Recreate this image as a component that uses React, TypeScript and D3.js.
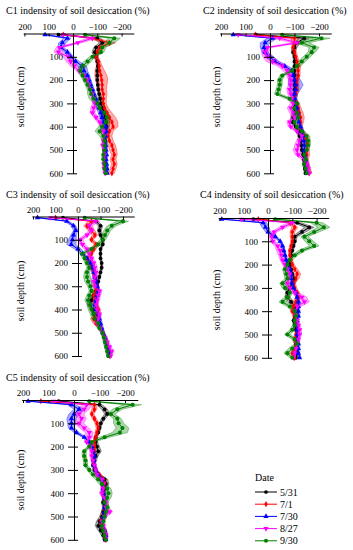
import React, { useRef, useEffect } from 'react'
import * as d3 from 'd3'

// depth (cm) of every sample
const depths = [5, 20, 40, 60, 80, 100, 120, 140, 160, 180, 200, 220, 240, 260, 280, 300, 320, 340, 360, 380, 400, 420, 440, 460, 480, 500, 520, 540, 560, 580, 600]
const dates = ['5/31', '7/1', '7/30', '8/27', '9/30']
const colors = ['#000000', '#ff0000', '#0000ff', '#ff00ff', '#008000']
const xTicks = [200, 100, 0, -100, -200]
const yTicks = [100, 200, 300, 400, 500, 600]

// C1
const c1Black = [60, -100, -120, -95, -90, -95, -100, -102, -100, -100, -100, -102, -104, -108, -112, -116, -122, -128, -132, -136, -138, -134, -130, -132, -130, -128, -130, -132, -130, -133, -134]
const c1Red = [40, -80, -150, -110, -100, -95, -105, -108, -110, -115, -118, -120, -120, -125, -125, -125, -130, -140, -150, -160, -165, -150, -145, -150, -160, -165, -170, -165, -170, -165, -160]
const c1Blue = [115, 23, 44, 50, 23, 10, -11, -38, -45, -59, -66, -73, -80, -86, -93, -100, -107, -114, -120, -127, -134, -136, -134, -132, -135, -136, -138, -136, -138, -140, -141]
const c1Magenta = [40, -80, -20, 55, 60, 20, 10, -5, -25, -45, -59, -65, -72, -80, -85, -90, -85, -80, -95, -110, -120, -125, -128, -125, -122, -128, -130, -128, -126, -128, -132]
const c1Green = [-50, -170, -150, -120, -115, -80, -60, -40, -30, -40, -50, -60, -70, -75, -85, -100, -110, -130, -140, -135, -120, -110, -125, -130, -130, -130, -125, -125, -130, -130, -135]
const c1BlackSd = [5, 15, 12, 10, 12, 8, 6, 5, 5, 5, 5, 5, 5, 6, 8, 10, 12, 15, 18, 15, 12, 8, 6, 5, 5, 5, 5, 5, 5, 5, 5]
const c1RedSd = [5, 20, 25, 15, 12, 8, 8, 12, 20, 25, 25, 20, 18, 15, 12, 12, 15, 20, 25, 25, 20, 15, 15, 15, 15, 15, 12, 12, 12, 12, 10]
const c1BlueSd = [10, 15, 15, 12, 10, 12, 15, 18, 15, 10, 8, 8, 8, 8, 8, 8, 10, 10, 10, 10, 8, 8, 6, 6, 6, 6, 6, 6, 6, 6, 6]
const c1MagentaSd = [10, 20, 15, 15, 18, 20, 18, 15, 12, 10, 10, 8, 8, 8, 8, 10, 12, 10, 10, 10, 8, 8, 8, 6, 6, 6, 6, 6, 6, 6, 6]
const c1GreenSd = [10, 25, 20, 15, 12, 12, 15, 15, 12, 10, 10, 10, 12, 15, 18, 15, 12, 12, 15, 15, 15, 20, 15, 10, 8, 6, 6, 6, 6, 6, 6]

// C2
const c2Black = [57, -140, -110, -100, -95, -100, -100, -100, -100, -100, -100, -100, -100, -100, -100, -100, -100, -98, -95, -92, -105, -115, -120, -125, -128, -130, -135, -138, -140, -142, -145]
const c2Red = [60, -100, -100, -95, -100, -105, -110, -115, -115, -115, -110, -110, -110, -105, -100, -110, -115, -120, -125, -125, -120, -130, -140, -150, -150, -150, -150, -145, -150, -155, -160]
const c2Blue = [150, -10, 20, 25, 20, 0, -20, -60, -90, -95, -100, -105, -105, -100, -100, -105, -110, -112, -115, -118, -125, -130, -135, -138, -140, -140, -142, -145, -148, -150, -150]
const c2Magenta = [130, -40, -110, 10, 20, 10, -10, -50, -70, -80, -85, -85, -80, -85, -90, -95, -85, -95, -100, -80, -85, -110, -130, -120, -115, -110, -115, -140, -150, -155, -160]
const c2Green = [-50, -210, -130, -180, -170, -150, -130, -110, -90, -50, -40, -40, -35, -30, -80, -110, -100, -110, -115, -100, -110, -130, -150, -155, -155, -150, -140, -145, -140, -145, -150]
const c2BlackSd = [5, 20, 15, 10, 8, 6, 5, 5, 5, 5, 5, 5, 5, 5, 5, 5, 6, 8, 10, 8, 6, 5, 5, 5, 5, 5, 5, 5, 5, 5, 5]
const c2RedSd = [5, 15, 10, 8, 8, 8, 10, 10, 8, 8, 8, 8, 8, 8, 8, 10, 12, 15, 15, 12, 10, 10, 12, 12, 10, 10, 12, 12, 10, 10, 10]
const c2BlueSd = [10, 20, 20, 15, 12, 15, 18, 15, 12, 15, 25, 30, 20, 12, 10, 10, 10, 10, 10, 8, 8, 8, 8, 8, 8, 8, 8, 8, 8, 8, 8]
const c2MagentaSd = [10, 30, 20, 15, 15, 20, 25, 20, 15, 12, 10, 10, 12, 12, 12, 12, 15, 15, 12, 12, 10, 10, 12, 12, 15, 15, 12, 12, 10, 10, 10]
const c2GreenSd = [10, 35, 30, 20, 15, 15, 15, 15, 12, 10, 10, 10, 10, 12, 15, 12, 10, 10, 10, 10, 10, 12, 12, 10, 10, 8, 8, 8, 8, 8, 8]

// C3
const c3Black = [67, -80, -100, -95, -100, -110, -110, -100, -100, -100, -105, -105, -100, -95, -90, -85, -80, -70, -60, -55, -65, -70, -80, -90, -100, -110, -120, -125, -130, -135, -135]
const c3Red = [100, -60, -40, -60, -75, -60, -80, -70, -60, -40, -55, -60, -70, -75, -80, -85, -80, -70, -75, -80, -90, -85, -70, -80, -100, -110, -120, -125, -130, -135, -140]
const c3Blue = [180, 50, 20, 10, 20, 25, 30, 0, -20, -40, -55, -65, -70, -75, -80, -85, -90, -85, -80, -75, -80, -90, -95, -100, -105, -110, -120, -125, -130, -135, -140]
const c3Magenta = [120, -80, -50, -60, -40, -10, -20, -40, -50, -60, -70, -75, -80, -75, -70, -75, -95, -90, -85, -80, -85, -95, -90, -85, -100, -110, -120, -130, -140, -150, -145]
const c3Green = [-30, -200, -150, -130, -120, -110, -90, -60, -20, -30, -40, -50, -40, -40, -45, -55, -60, -50, -45, -55, -60, -70, -75, -90, -95, -110, -115, -120, -125, -130, -135]
const c3BlackSd = [5, 10, 10, 8, 8, 6, 6, 5, 5, 5, 5, 5, 5, 5, 5, 5, 6, 10, 15, 15, 10, 8, 6, 6, 6, 6, 6, 6, 6, 6, 6]
const c3RedSd = [5, 15, 15, 15, 12, 10, 10, 10, 8, 8, 8, 8, 8, 8, 8, 8, 10, 12, 12, 10, 10, 12, 15, 12, 10, 8, 8, 8, 8, 8, 8]
const c3BlueSd = [10, 10, 10, 10, 12, 18, 20, 15, 10, 8, 8, 8, 8, 8, 8, 8, 8, 8, 8, 8, 8, 8, 8, 8, 8, 8, 8, 8, 8, 8, 8]
const c3MagentaSd = [10, 15, 15, 12, 12, 12, 12, 12, 10, 10, 10, 10, 10, 12, 12, 12, 12, 10, 10, 10, 10, 10, 10, 10, 10, 8, 8, 8, 8, 8, 8]
const c3GreenSd = [10, 25, 20, 15, 15, 12, 12, 15, 12, 10, 10, 10, 12, 15, 15, 12, 10, 12, 15, 15, 15, 15, 15, 12, 10, 8, 8, 8, 8, 8, 8]

// C4
const c4Black = [60, -120, -170, -140, -110, -110, -105, -100, -95, -90, -90, -95, -100, -110, -100, -90, -80, -80, -95, -110, -115, -110, -105, -110, -115, -120, -115, -115, -120, -120, -115]
const c4Red = [40, -90, -110, -100, -100, -100, -95, -90, -90, -95, -100, -110, -120, -115, -105, -110, -120, -125, -115, -105, -100, -110, -115, -120, -120, -115, -110, -115, -110, -100, -110]
const c4Blue = [190, 20, 10, 0, -30, -50, -60, -65, -70, -75, -80, -90, -95, -95, -100, -105, -115, -120, -125, -125, -125, -125, -120, -120, -120, -120, -120, -125, -125, -125, -130]
const c4Magenta = [110, -100, -60, -25, -15, -20, -40, -50, -55, -60, -70, -80, -90, -85, -80, -90, -110, -140, -150, -120, -110, -115, -120, -125, -130, -130, -125, -120, -115, -110, -105]
const c4Green = [-30, -200, -230, -190, -150, -170, -190, -140, -110, -90, -80, -70, -75, -80, -60, -70, -90, -80, -60, -90, -110, -115, -110, -110, -100, -80, -110, -120, -100, -80, -100]
const c4BlackSd = [5, 15, 20, 15, 10, 6, 5, 5, 5, 5, 5, 5, 5, 8, 12, 10, 8, 10, 12, 10, 8, 6, 5, 5, 5, 5, 5, 5, 5, 5, 5]
const c4RedSd = [5, 12, 12, 10, 8, 6, 6, 6, 6, 6, 8, 12, 15, 12, 8, 8, 10, 12, 12, 10, 8, 8, 8, 8, 6, 6, 6, 6, 6, 6, 6]
const c4BlueSd = [10, 15, 15, 10, 8, 6, 6, 6, 6, 6, 6, 6, 6, 6, 6, 6, 6, 6, 6, 6, 6, 6, 6, 6, 6, 6, 6, 6, 6, 6, 6]
const c4MagentaSd = [10, 20, 15, 12, 10, 10, 12, 15, 12, 10, 10, 10, 10, 10, 10, 12, 15, 20, 20, 15, 10, 8, 8, 8, 8, 8, 8, 8, 8, 8, 8]
const c4GreenSd = [10, 25, 25, 20, 15, 18, 20, 15, 12, 10, 10, 10, 10, 10, 12, 12, 10, 12, 15, 12, 10, 8, 8, 8, 10, 12, 12, 12, 15, 15, 10]

// C5
const c5Black = [60, -100, -120, -130, -115, -105, -100, -95, -85, -85, -90, -95, -85, -80, -75, -80, -95, -120, -125, -120, -115, -120, -115, -120, -115, -110, -100, -95, -105, -115, -120]
const c5Red = [130, -80, -80, -70, -80, -90, -95, -90, -85, -80, -80, -80, -75, -75, -80, -85, -100, -115, -120, -115, -115, -120, -120, -125, -120, -115, -105, -110, -120, -125, -125]
const c5Blue = [180, 10, -20, 0, 10, 10, 10, -10, -40, -60, -70, -75, -80, -78, -78, -85, -95, -110, -115, -115, -115, -120, -120, -120, -120, -115, -110, -110, -120, -125, -125]
const c5Magenta = [80, -50, -40, -20, -30, -20, -40, -60, -60, -50, -65, -70, -70, -75, -80, -85, -90, -110, -115, -115, -110, -120, -125, -125, -140, -120, -110, -115, -120, -125, -125]
const c5Green = [-60, -230, -170, -145, -170, -175, -190, -180, -120, -70, -60, -40, -40, -45, -45, -60, -75, -95, -110, -130, -135, -130, -120, -130, -125, -120, -115, -110, -115, -120, -125]
const c5BlackSd = [5, 10, 12, 10, 8, 6, 6, 6, 6, 8, 10, 12, 10, 8, 6, 6, 8, 12, 12, 10, 8, 8, 8, 8, 8, 10, 12, 12, 10, 8, 6]
const c5RedSd = [5, 10, 10, 8, 8, 8, 8, 8, 6, 6, 6, 6, 6, 6, 6, 6, 8, 10, 10, 8, 8, 8, 8, 10, 12, 10, 8, 8, 8, 8, 6]
const c5BlueSd = [10, 15, 20, 20, 18, 15, 12, 10, 8, 6, 6, 6, 6, 6, 6, 6, 6, 6, 6, 6, 6, 6, 6, 6, 6, 6, 6, 6, 6, 6, 6]
const c5MagentaSd = [10, 20, 20, 18, 18, 18, 18, 15, 12, 10, 8, 8, 8, 8, 8, 8, 8, 10, 10, 10, 10, 10, 10, 10, 12, 10, 8, 8, 8, 8, 6]
const c5GreenSd = [10, 35, 20, 15, 15, 20, 25, 30, 20, 10, 8, 8, 8, 8, 8, 8, 10, 12, 12, 15, 15, 15, 12, 10, 10, 8, 8, 8, 8, 8, 6]

const panels = [
    { name: 'C1', series: [c1Black, c1Red, c1Blue, c1Magenta, c1Green], spread: [c1BlackSd, c1RedSd, c1BlueSd, c1MagentaSd, c1GreenSd], zeroX: 73, top: 33.5, pxX: 24.3, pxY: 23.3, titleX: 6, titleY: 14, labelX: 24, labelY: 97 },
    { name: 'C2', series: [c2Black, c2Red, c2Blue, c2Magenta, c2Green], spread: [c2BlackSd, c2RedSd, c2BlueSd, c2MagentaSd, c2GreenSd], zeroX: 270, top: 33.5, pxX: 24.5, pxY: 23.3, titleX: 203, titleY: 14, labelX: 220, labelY: 97 },
    { name: 'C3', series: [c3Black, c3Red, c3Blue, c3Magenta, c3Green], spread: [c3BlackSd, c3RedSd, c3BlueSd, c3MagentaSd, c3GreenSd], zeroX: 78, top: 216.5, pxX: 22.5, pxY: 23.25, titleX: 6, titleY: 198, labelX: 24, labelY: 291 },
    { name: 'C4', series: [c4Black, c4Red, c4Blue, c4Magenta, c4Green], spread: [c4BlackSd, c4RedSd, c4BlueSd, c4MagentaSd, c4GreenSd], zeroX: 268, top: 218, pxX: 24.3, pxY: 23.3, titleX: 200, titleY: 198, labelX: 220, labelY: 300 },
    { name: 'C5', series: [c5Black, c5Red, c5Blue, c5Magenta, c5Green], spread: [c5BlackSd, c5RedSd, c5BlueSd, c5MagentaSd, c5GreenSd], zeroX: 74, top: 400, pxX: 25.5, pxY: 23.3, titleX: 6, titleY: 381, labelX: 24, labelY: 480 },
]

const font = "'Liberation Serif', 'Times New Roman', Times, serif"

// marker shapes: circle, diamond, triangle, triangle down, circle
const markerPath = (i: number) => {
    const types = [d3.symbolCircle, d3.symbolDiamond, d3.symbolTriangle, d3.symbolTriangle, d3.symbolCircle]
    const sizes = [11, 11, 12, 12, 13]
    return d3.symbol().type(types[i]).size(sizes[i])()
}

export default function App() {
    const svgRef = useRef<SVGSVGElement>(null)

    useEffect(() => {
        const svg = d3.select(svgRef.current)
        svg.selectAll('*').remove()

        panels.forEach((p) => {
            const g = svg.append('g')
            const x = d3
                .scaleLinear()
                .domain([205, -250])
                .range([p.zeroX - 2.05 * p.pxX, p.zeroX + 2.5 * p.pxX])
            const y = d3
                .scaleLinear()
                .domain([0, 600])
                .range([p.top, p.top + 6 * p.pxY])

            // title
            g.append('text')
                .attr('x', p.titleX)
                .attr('y', p.titleY)
                .attr('font-family', font)
                .attr('font-size', 10)
                .text(`${p.name} indensity of soil desiccation (%)`)

            // y label
            g.append('text')
                .attr('transform', `translate(${p.labelX},${p.labelY}) rotate(-90)`)
                .attr('text-anchor', 'middle')
                .attr('font-family', font)
                .attr('font-size', 10)
                .text('soil depth (cm)')

            // bands
            p.series.forEach((vals, si) => {
                const sd = p.spread[si]
                const area = d3
                    .area<number>()
                    .x0((d, i) => x(vals[i] - sd[i]))
                    .x1((d, i) => x(vals[i] + sd[i]))
                    .y((d) => y(d))
                g.append('path')
                    .attr('d', area(depths))
                    .attr('fill', colors[si])
                    .attr('fill-opacity', 0.33)
                    .attr('stroke', colors[si])
                    .attr('stroke-opacity', 0.7)
                    .attr('stroke-width', 0.5)
            })

            // lines + markers
            p.series.forEach((vals, si) => {
                const line = d3
                    .line<number>()
                    .x((d, i) => x(vals[i]))
                    .y((d) => y(d))
                g.append('path')
                    .attr('d', line(depths))
                    .attr('fill', 'none')
                    .attr('stroke', colors[si])
                    .attr('stroke-width', 1)
                g.selectAll(null)
                    .data(depths)
                    .enter()
                    .append('path')
                    .attr('d', markerPath(si))
                    .attr('transform', (d, i) => `translate(${x(vals[i])},${y(d)})${si === 3 ? ' rotate(180)' : ''}`)
                    .attr('fill', colors[si])
            })

            // top x axis
            const xAxis = d3.axisTop(x).tickValues(xTicks).tickSizeInner(-3).tickSizeOuter(0).tickPadding(4)
            const ax = g.append('g').attr('transform', `translate(0,${p.top})`).call(xAxis)
            ax.attr('font-family', font).attr('font-size', 9)
            ax.selectAll('text').attr('fill', '#000')
            ax.select('.domain').attr('stroke', '#000')

            // left y axis with crossing ticks
            const yAxis = d3.axisLeft(y).tickValues(yTicks).tickSize(6).tickSizeOuter(0).tickPadding(4)
            const ay = g.append('g').attr('transform', `translate(${p.zeroX},0)`).call(yAxis)
            ay.attr('font-family', font).attr('font-size', 9)
            ay.selectAll('.tick line').attr('x1', 4).attr('x2', -6)
            ay.selectAll('text').attr('fill', '#000')
        })

        // legend
        const lg = svg.append('g').attr('transform', 'translate(255,478)')
        lg.append('text')
            .attr('x', 0)
            .attr('y', 3)
            .attr('font-family', font)
            .attr('font-size', 10)
            .text('Date')
        const item = lg
            .selectAll('.item')
            .data(dates)
            .enter()
            .append('g')
            .attr('class', 'item')
            .attr('transform', (d, i) => `translate(0,${14 + i * 12.2})`)
        item.append('line')
            .attr('x1', 0)
            .attr('x2', 22)
            .attr('stroke', (d, i) => colors[i])
            .attr('stroke-width', 1)
        item.append('path')
            .attr('d', (d, i) => markerPath(i))
            .attr('transform', (d, i) => `translate(11,0)${i === 3 ? ' rotate(180)' : ''}`)
            .attr('fill', (d, i) => colors[i])
        item.append('text')
            .attr('x', 25)
            .attr('dy', '0.35em')
            .attr('font-family', font)
            .attr('font-size', 10)
            .text((d) => d)
    }, [])

    return (
        <svg
            ref={svgRef}
            width={353}
            height={550}
            style={{ position: 'absolute', left: 0, top: 0, background: '#fff' }}
        />
    )
}
